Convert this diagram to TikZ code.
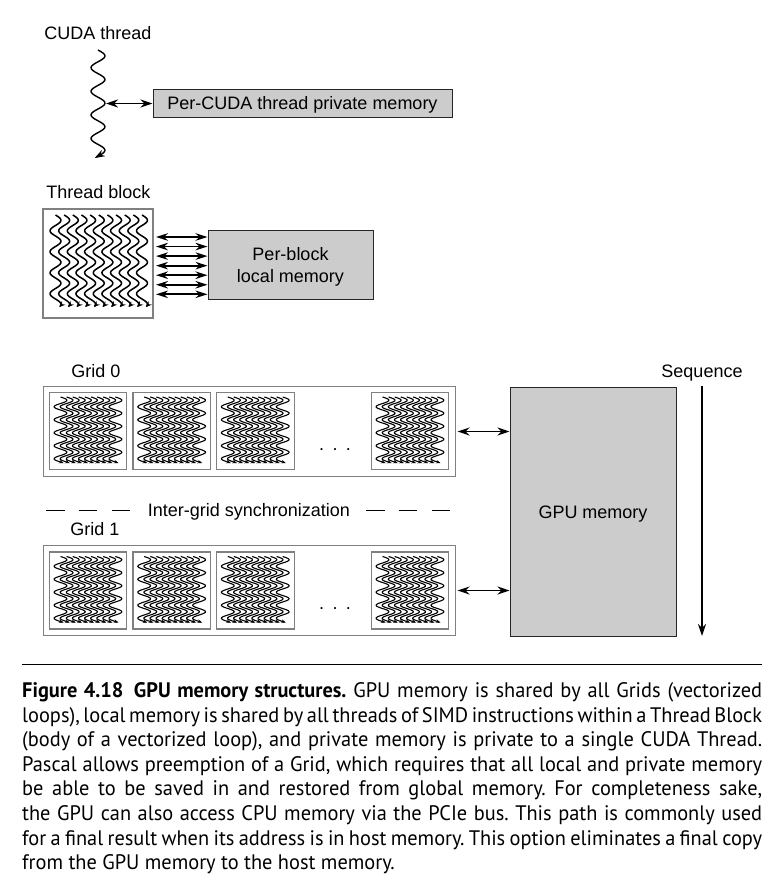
\documentclass[tikz,border=0pt]{standalone}
\usepackage{fontspec}
\setmainfont{Liberation Sans}
\newfontfamily\capfont[FakeStretch=0.97]{PT Sans}
\usetikzlibrary{arrows.meta}
\newcommand\wthread[6]{%
  \draw[#6] plot[domain=#2:#3, samples=70, smooth, variable=\t] ({#1+#4*sin(((\t-#2)/#5)*360)}, {\t});
}
\begin{document}
\begin{tikzpicture}[x=1pt,y=-1pt,
  lbl/.style={font=\fontsize{18}{21.7}\selectfont, inner sep=0pt, anchor=base},
  mem/.style={draw=black!85, fill=black!20, line width=1pt, inner sep=0pt,
              font=\fontsize{18}{21.7}\selectfont},
  frame/.style={draw=black!50, line width=1.1pt, inner sep=0pt},
  dbl/.style={{Stealth[length=12pt,width=8pt]}-{Stealth[length=12pt,width=8pt]}, line width=1.8pt},
  cudathr/.style={line width=1.4pt, line join=round, -{Stealth[length=10pt,width=7pt]}},
  tbthr/.style={line width=1.5pt, line join=round, -{Stealth[length=6pt,width=5pt]}},
  smthr/.style={line width=1.1pt, line join=round, -{Stealth[length=4.5pt,width=3.5pt]}},
  syncdash/.style={line width=1.1pt, dash pattern=on 18.5pt off 14.3pt},
  seqarrow/.style={line width=1.6pt, -{Stealth[length=12pt,width=8pt]}},
]
\useasboundingbox (0,0) rectangle (774,886);

% ---------- CUDA thread ----------
\node[lbl] (cudalbl) at (98,39) {CUDA thread};
\wthread{98}{50}{158}{7}{23.6}{cudathr}
\node[mem, minimum width=299pt, minimum height=27.5pt, text height=12.9pt, text depth=0pt]
  (priv) at (302.5,103.5) {Per-CUDA thread private memory};
\coordinate (cudapt) at (106,103.5);
\draw[dbl] (cudapt) -- (priv.west);

% ---------- Thread block ----------
\node[lbl] (tblbl) at (98.3,198) {Thread block};
\node[frame, minimum width=110pt, minimum height=109pt] (tb) at (98,263.5) {};
\foreach \i in {0,...,10} {
  \pgfmathsetmacro\xx{55.5+8.65*\i}
  \wthread{\xx}{215}{307}{5.5}{21}{tbthr}
}
\node[mem, minimum width=165pt, minimum height=69pt, align=center, text depth=0pt]
  (blk) at (290.5,264.7) {Per-block\\local memory};
\foreach \i in {0,...,6} {
  \pgfmathsetmacro\yy{237+9.55*\i}
  \coordinate (ta\i) at (156,\yy);
  \draw[line width=1.7pt, {Stealth[length=12pt,width=7.5pt]}-{Stealth[length=12pt,width=7.5pt]}]
    (ta\i) -- (ta\i -| blk.west);
}

% ---------- Grids ----------
\node[lbl] (g0lbl) at (96,377) {Grid 0};
\node[lbl] (g1lbl) at (95,535) {Grid 1};
\node[frame, minimum width=411.7pt, minimum height=90pt] (g0) at (249.2,431.5) {};
\node[frame, minimum width=411.7pt, minimum height=90pt] (g1) at (249.2,590.5) {};
\foreach \cy/\g in {431/0,590.5/1} {
  \foreach \cx/\k in {88/a,171.7/b,255.3/c,410/d} {
    \node[frame, minimum width=77.5pt, minimum height=77pt] (g\g\k) at (\cx,\cy) {};
    \foreach \i in {0,...,9} {
      \pgfmathsetmacro\xx{\cx-27.5+6.1*\i}
      \pgfmathsetmacro\ya{\cy-34}
      \pgfmathsetmacro\yb{\cy+32}
      \wthread{\xx}{\ya}{\yb}{6.5}{13}{smthr}
    }
  }
}
\node[lbl] (dots0) at (335,450.3) {.\hspace{8.3pt}.\hspace{8.3pt}.};
\node[lbl] (dots1) at (335,609.3) {.\hspace{8.3pt}.\hspace{8.3pt}.};

% ---------- Synchronization ----------
\node[lbl] (synclbl) at (249,516) {Inter-grid synchronization};
\coordinate (sl1) at (46,510.5);
\coordinate (sl2) at (131,510.5);
\coordinate (sr1) at (366,510.5);
\coordinate (sr2) at (451,510.5);
\draw[syncdash] (sl1) -- (sl2);
\draw[syncdash] (sr1) -- (sr2);

% ---------- GPU memory ----------
\node[mem, minimum width=166pt, minimum height=249pt, text height=12.9pt, text depth=0pt]
  (gpu) at (593,511.7) {GPU memory};
\draw[dbl] ([xshift=2pt]g0.east) -- (g0.east -| gpu.west);
\draw[dbl] ([xshift=2pt]g1.east) -- (g1.east -| gpu.west);

% ---------- Sequence ----------
\node[lbl] (seqlbl) at (702,377) {Sequence};
\coordinate (seqtop) at (702,386);
\coordinate (seqbot) at (702,636);
\draw[seqarrow] (seqtop) -- (seqbot);

% ---------- Caption ----------
\coordinate (rulel) at (22,664);
\coordinate (ruler) at (762,664);
\draw[line width=1pt] (rulel) -- (ruler);
\node[anchor=base west, inner sep=0pt, text width=740pt, align=justify,
      font=\capfont\fontsize{21}{24.6}\selectfont] (cap) at (22,697.5)
{\hyphenpenalty=10000\sloppy\frenchspacing
{\bfseries Figure 4.18\hspace{0.5em}GPU memory structures.} GPU memory is shared by all Grids (vectorized\linebreak
loops), local memory is shared by all threads of SIMD instructions within a Thread Block\linebreak
(body of a vectorized loop), and private memory is private to a single CUDA Thread.\linebreak
Pascal allows preemption of a Grid, which requires that all local and private memory\linebreak
be able to be saved in and restored from global memory. For completeness sake,\linebreak
the GPU can also access CPU memory via the PCIe bus. This path is commonly used\linebreak
for a final result when its address is in host memory. This option eliminates a final copy\linebreak
from the GPU memory to the host memory.};
\end{tikzpicture}
\end{document}
